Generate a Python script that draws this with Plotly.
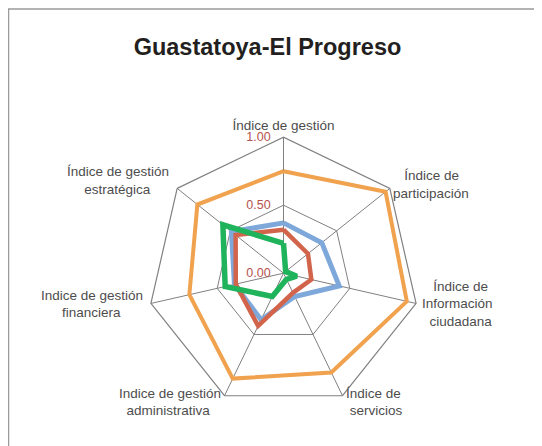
import plotly.graph_objects as go

W, H = 542, 446
OFF = 8  # margen del body de la página

NB = "\u00a0"

categorias = [
    "Índice de gestión",
    "Índice de participación",
    "Índice de Información ciudadana",
    "Índice de servicios",
    "Indice de gestión administrativa",
    "Indice de gestión financiera",
    "Índice de gestión estratégica",
]

serie_azul = [0.37, 0.36, 0.42, 0.19, 0.38, 0.37, 0.49]
serie_roja = [0.32, 0.23, 0.21, 0.16, 0.43, 0.36, 0.45]
serie_naranja = [0.75, 0.96, 0.93, 0.81, 0.86, 0.71, 0.81]
serie_verde = [0.22, 0.02, 0.10, 0.05, 0.19, 0.44, 0.57]

radial_ticks = [0, 0.5, 1.0]
radial_labels = ["0.00", "0.50", "1.00"]

# textos de las etiquetas de los ejes (espacios para centrar las líneas)
etiquetas = [
    "Índice de gestión",
    NB * 3 + "Índice de<br>participación",
    NB * 3 + "Índice de<br>Información<br>" + NB * 2 + "ciudadana",
    "Índice de<br>" + NB + "servicios",
    "Indice de gestión<br>administrativa" + NB * 3,
    "Indice de gestión<br>financiera" + NB * 6,
    "Índice de gestión<br>estratégica" + NB * 5,
]
# colocación de cada etiqueta alrededor del vértice
etiqueta_r = [1.025, 1.03, 1.045, 1.06, 1.06, 1.06, 1.077]
etiqueta_pos = [
    "top center",
    "middle right",
    "middle right",
    "middle right",
    "middle left",
    "middle left",
    "middle left",
]

series = [
    (serie_azul, "#7ea8da", 5),
    (serie_roja, "#d2644c", 4.5),
    (serie_naranja, "#f0a24e", 4),
    (serie_verde, "#1fb45c", 5.5),
]

fig = go.Figure()
for valores, color, ancho in series:
    fig.add_trace(
        go.Scatterpolar(
            r=valores + valores[:1],
            theta=categorias + categorias[:1],
            mode="lines",
            line=dict(color=color, width=ancho),
            hoverinfo="skip",
        )
    )

# las etiquetas van en un segundo polar, mismo centro y escala, rango más amplio
fig.add_trace(
    go.Scatterpolar(
        r=etiqueta_r,
        theta=categorias,
        mode="text",
        text=etiquetas,
        textposition=etiqueta_pos,
        textfont=dict(family="Liberation Sans, Arial", size=13.5, color="#4d4d4d"),
        cliponaxis=False,
        hoverinfo="skip",
        subplot="polar2",
    )
)

# centro y radio del gráfico en píxeles
cx, cy, R = 283.5 - OFF, 273.2 - OFF, 136
EXT = 1.2
R2 = R * EXT


def dominio(radio):
    return dict(
        x=[(cx - radio) / W, (cx + radio) / W],
        y=[(H - cy - radio) / H, (H - cy + radio) / H],
    )


fig.update_layout(
    width=W,
    height=H,
    margin=dict(l=0, r=0, t=0, b=0),
    paper_bgcolor="white",
    showlegend=False,
    title=dict(
        text="<b>Guastatoya-El Progreso</b>",
        x=(267.5 - OFF) / W,
        y=1 - (47 - OFF) / H,
        xanchor="center",
        yanchor="middle",
        font=dict(family="Liberation Sans, Arial", size=23.5, color="#231f20"),
    ),
    polar=dict(
        domain=dominio(R),
        gridshape="linear",
        bgcolor="white",
        radialaxis=dict(
            range=[0, 1],
            tickvals=radial_ticks,
            ticktext=radial_labels,
            angle=90,
            side="counterclockwise",
            tickangle=90,
            showline=False,
            ticks="outside",
            ticklen=8,
            tickcolor="rgba(0,0,0,0)",
            gridcolor="#808080",
            gridwidth=1.2,
            tickfont=dict(family="Liberation Sans, Arial", size=12.5, color="#b5524e"),
        ),
        angularaxis=dict(
            direction="clockwise",
            rotation=90,
            showticklabels=False,
            showline=True,
            linecolor="#808080",
            linewidth=1.2,
            gridcolor="#808080",
            gridwidth=1.2,
            ticks="",
        ),
    ),
    polar2=dict(
        domain=dominio(R2),
        gridshape="linear",
        bgcolor="rgba(0,0,0,0)",
        radialaxis=dict(range=[0, EXT], visible=False),
        angularaxis=dict(direction="clockwise", rotation=90, visible=False),
    ),
    shapes=[
        dict(
            type="rect",
            xref="paper",
            yref="paper",
            x0=0.5 / W,
            x1=1.02,
            y0=-0.02,
            y1=1 - 1 / H,
            line=dict(color="#9a9a9a", width=1.5),
            layer="below",
        )
    ],
)

fig.write_html("out.html")
